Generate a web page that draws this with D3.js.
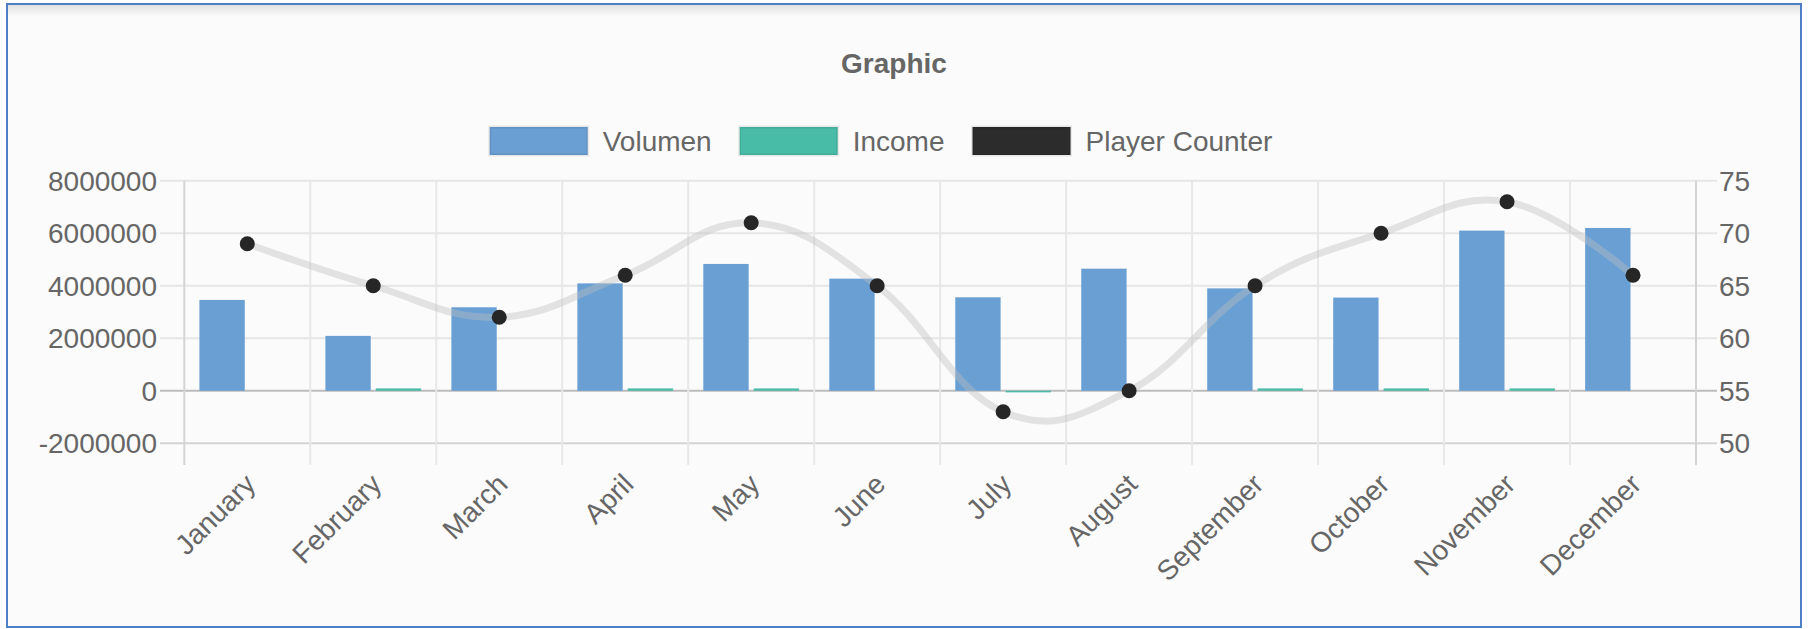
<!DOCTYPE html>
<html>
<head>
<meta charset="utf-8">
<script src="https://cdn.jsdelivr.net/npm/d3@7"></script>
<style>
  body { margin: 0; background: #ffffff; }
  svg { display: block; font-family: "Liberation Sans", Arial, Helvetica, sans-serif; }
</style>
</head>
<body>
<script>
// Data
const months = ["January", "February", "March", "April", "May", "June",
                "July", "August", "September", "October", "November", "December"];
const volumen = [3460000, 2090000, 3180000, 4090000, 4830000, 4270000,
                 3560000, 4650000, 3900000, 3550000, 6100000, 6200000];
const income = [0, 90000, 0, 90000, 90000, 0, -60000, 0, 90000, 90000, 90000, 0];
const players = [69, 65, 62, 66, 71, 65, 53, 55, 65, 70, 73, 66];
const leftTicks = [-2000000, 0, 2000000, 4000000, 6000000, 8000000];
const rightTicks = [50, 55, 60, 65, 70, 75];
const seriesNames = ["Volumen", "Income", "Player Counter"];
const seriesColors = ["#6a9fd4", "#48bca7", "#2c2c2c"];

const W = 1808, H = 629;
const plot = { left: 184.3, right: 1696, top: 180.7, bottom: 443.3 };
const textColor = "#666";

const svg = d3.select("body").append("svg")
    .attr("width", W)
    .attr("height", H);

// frame
const defs = svg.append("defs");
const grad = defs.append("linearGradient").attr("id", "topShade")
    .attr("x1", 0).attr("y1", 0).attr("x2", 0).attr("y2", 1);
grad.append("stop").attr("offset", "0%").attr("stop-color", "#e2e2e2");
grad.append("stop").attr("offset", "100%").attr("stop-color", "#fbfbfb");

svg.append("rect")
    .attr("x", 7).attr("y", 4).attr("width", 1794).attr("height", 623)
    .attr("fill", "#fbfbfb");
svg.append("rect")
    .attr("x", 8).attr("y", 5).attr("width", 1792).attr("height", 12)
    .attr("fill", "url(#topShade)");
svg.append("rect")
    .attr("x", 7).attr("y", 4).attr("width", 1794).attr("height", 623)
    .attr("fill", "none")
    .attr("stroke", "#4d7fc6")
    .attr("stroke-width", 2);

// scales
const x = d3.scaleBand()
    .domain(months)
    .range([plot.left, plot.right]);
const bw = x.bandwidth();
const xInner = d3.scaleBand()
    .domain(["Volumen", "Income"])
    .range([0.1 * bw, 0.9 * bw])
    .paddingInner(0.1)
    .paddingOuter(0.05);
const yLeft = d3.scaleLinear().domain([-2000000, 8000000]).range([plot.bottom, plot.top]);
const yRight = d3.scaleLinear().domain([50, 75]).range([plot.bottom, plot.top]);

// horizontal grid + tick marks
const grid = svg.append("g");
grid.selectAll(".hgrid")
    .data(leftTicks)
    .enter().append("line")
    .attr("x1", 160).attr("x2", 1717)
    .attr("y1", d => yLeft(d)).attr("y2", d => yLeft(d))
    .attr("stroke", d => d === 0 ? "#bdbdbd" : (d === -2000000 ? "#d4d4d4" : "#e6e6e6"))
    .attr("stroke-width", 2);

// vertical grid + tick marks
const vlines = months.map(m => x(m)).concat([plot.right]);
grid.selectAll(".vgrid")
    .data(vlines)
    .enter().append("line")
    .attr("x1", d => d).attr("x2", d => d)
    .attr("y1", plot.top).attr("y2", 465)
    .attr("stroke", (d, i) => (i === 0 || i === vlines.length - 1) ? "#d4d4d4" : "#e8e8e8")
    .attr("stroke-width", 2);

// left axis labels
svg.append("g").selectAll("text")
    .data(leftTicks)
    .enter().append("text")
    .attr("x", 157)
    .attr("y", d => yLeft(d))
    .attr("dy", "0.35em")
    .attr("text-anchor", "end")
    .attr("font-size", 28)
    .attr("fill", textColor)
    .text(d => d);

// right axis labels
svg.append("g").selectAll("text")
    .data(rightTicks)
    .enter().append("text")
    .attr("x", 1719)
    .attr("y", d => yRight(d))
    .attr("dy", "0.35em")
    .attr("text-anchor", "start")
    .attr("font-size", 28)
    .attr("fill", textColor)
    .text(d => d);

// month labels
svg.append("g").selectAll("text")
    .data(months)
    .enter().append("text")
    .attr("transform", d => "translate(" + (x(d) + bw / 2 + 3) + ",479) rotate(-45)")
    .attr("dy", "0.35em")
    .attr("text-anchor", "end")
    .attr("font-size", 28)
    .attr("fill", textColor)
    .text(d => d);

// bars
const bars = svg.append("g");
bars.selectAll(".vol")
    .data(volumen)
    .enter().append("rect")
    .attr("x", (d, i) => x(months[i]) + xInner("Volumen"))
    .attr("width", xInner.bandwidth())
    .attr("y", d => yLeft(Math.max(0, d)))
    .attr("height", d => Math.abs(yLeft(d) - yLeft(0)))
    .attr("fill", seriesColors[0]);

bars.selectAll(".inc")
    .data(income)
    .enter().append("rect")
    .attr("x", (d, i) => x(months[i]) + xInner("Income"))
    .attr("width", xInner.bandwidth())
    .attr("y", d => yLeft(Math.max(0, d)))
    .attr("height", d => Math.abs(yLeft(d) - yLeft(0)))
    .attr("fill", seriesColors[1]);

// player counter line
const line = d3.line()
    .x((d, i) => x(months[i]) + bw / 2)
    .y(d => yRight(d))
    .curve(d3.curveCardinal.tension(-0.2));

svg.append("path")
    .datum(players)
    .attr("d", line)
    .attr("fill", "none")
    .attr("stroke", "rgba(190,190,190,0.4)")
    .attr("stroke-width", 7);

svg.append("g").selectAll("circle")
    .data(players)
    .enter().append("circle")
    .attr("cx", (d, i) => x(months[i]) + bw / 2)
    .attr("cy", d => yRight(d))
    .attr("r", 7.5)
    .attr("fill", "#262626");

// title
svg.append("text")
    .attr("x", 894)
    .attr("y", 73)
    .attr("text-anchor", "middle")
    .attr("font-size", 28)
    .attr("font-weight", "bold")
    .attr("fill", textColor)
    .text("Graphic");

// legend
const legend = svg.append("g");
const boxW = 98, boxH = 28, boxGap = 15, itemGap = 28;
const items = seriesNames.map((name, i) => {
    const g = legend.append("g");
    g.append("rect")
        .attr("width", boxW).attr("height", boxH)
        .attr("fill", seriesColors[i])
        .attr("stroke", "rgba(0,0,0,0.08)")
        .attr("stroke-width", 3);
    const t = g.append("text")
        .attr("x", boxW + boxGap)
        .attr("y", boxH / 2)
        .attr("dy", "0.35em")
        .attr("font-size", 28)
        .attr("fill", textColor)
        .text(name);
    return { g: g, w: boxW + boxGap + t.node().getComputedTextLength() };
});
const total = d3.sum(items, d => d.w) + itemGap * (items.length - 1);
let cursor = 881 - total / 2;
items.forEach(it => {
    it.g.attr("transform", "translate(" + cursor + ",127)");
    cursor += it.w + itemGap;
});
</script>
</body>
</html>
